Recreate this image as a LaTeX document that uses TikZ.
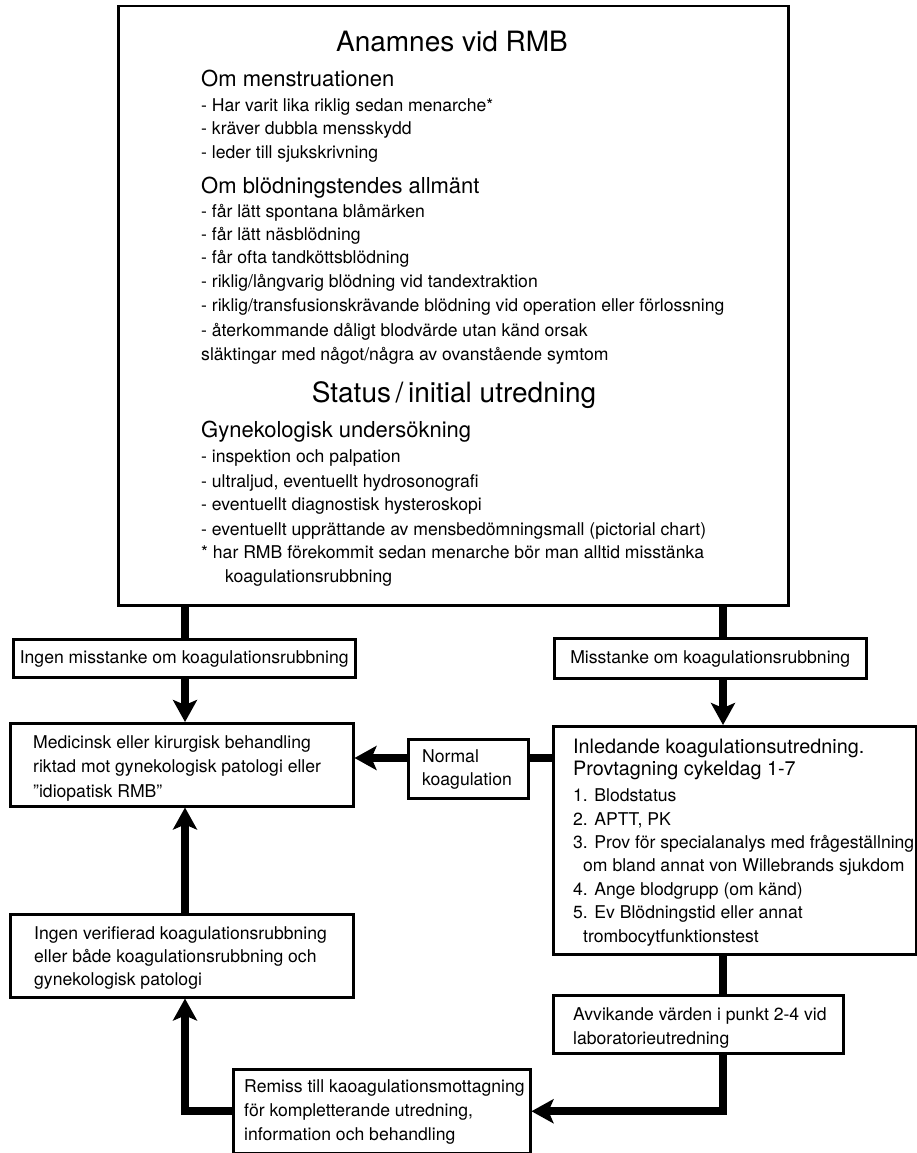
\documentclass[tikz,border=0pt]{standalone}
\usepackage{fontspec}
\setmainfont{TeX Gyre Heros}
\usepackage{tikz}
\usetikzlibrary{arrows.meta,positioning}

\begin{document}
\begin{tikzpicture}[x=1pt, y=-1pt,
    box/.style={draw, line width=2.5pt, inner sep=0pt, anchor=north west},
    small/.style={font=\fontsize{17.6}{23.5}\selectfont},
    txt/.style={small, anchor=base west, align=left, inner sep=0pt},
    head/.style={anchor=base, inner sep=0pt, font=\fontsize{28}{30}\selectfont},
    subhead/.style={anchor=base west, inner sep=0pt, font=\fontsize{22}{24}\selectfont},
    flow/.style={line width=8pt},
    arrow/.style={flow, -{Stealth[length=22pt, width=24pt, inset=5pt]}}]
				\useasboundingbox (0,0) rectangle (917,1153);
				
				\node[box, minimum width=670, minimum height=599] (anamnes) at (117,5) {};
				\node[head] (anamnesTitle) at (452,52) {Anamnes vid RMB};
				\node[subhead] (menstHead) at (201,87) {Om menstruationen};
				\node[subhead] (bleedHead) at (201,193) {Om blödningstendes allmänt};
				\node[head] (statusTitle) at (454,402) {Status\,/\,initial utredning};
				\node[subhead] (gynHead) at (201,437) {Gynekologisk undersökning};
				\foreach \ypos/\entry in {112/{- Har varit lika riklig sedan menarche*}, 135/{- kräver dubbla mensskydd},
				    158/{- leder till sjukskrivning}, 217/{- får lätt spontana blåmärken}, 240/{- får lätt näsblödning},
				    263/{- får ofta tandköttsblödning}, 287/{- riklig/långvarig blödning vid tandextraktion},
				    311/{- riklig/transfusionskrävande blödning vid operation eller förlossning},
				    336/{- återkommande dåligt blodvärde utan känd orsak}, 360/{släktingar med något/några av ovanstående symtom},
				    462/{- inspektion och palpation}, 487/{- ultraljud, eventuellt hydrosonografi},
				    510/{- eventuellt diagnostisk hysteroskopi}, 535/{- eventuellt upprättande av mensbedömningsmall (pictorial chart)},
				    558/{* har RMB förekommit sedan menarche bör man alltid misstänka}}
				    \node[txt] (anam\ypos) at (201,\ypos) {\entry};
				\node[txt] (anam582) at (225,582) {koagulationsrubbning};
				
				\node[box, small, minimum width=342, minimum height=38, text height=12pt, text depth=1pt] (ingen) at (12,638) {Ingen misstanke om koagulationsrubbning};
				\node[box, small, minimum width=312, minimum height=40, text height=12pt, text depth=1pt] (misstanke) at (553,637) {Misstanke om koagulationsrubbning};
				
				\node[box, minimum width=343, minimum height=83] (medicinsk) at (9,722) {};
				\node[txt, font=\fontsize{17.6}{24.5}\selectfont] (medicinskText) at (33,797) {Medicinsk eller kirurgisk behandling\\riktad mot gynekologisk patologi eller\\”idiopatisk RMB”};
				
				\node[box, minimum width=120, minimum height=59] (normal) at (407,738) {};
				\node[txt, font=\fontsize{17.6}{23}\selectfont] (normalText) at (422,785) {Normal\\koagulation};
				
				\node[box, minimum width=363, minimum height=228] (inledande) at (552,725) {};
				\node[txt, font=\fontsize{19.8}{22}\selectfont] (inledandeHead) at (573,775) {Inledande koagulationsutredning.\\Provtagning cykeldag 1-7};
				\node[txt, font=\fontsize{17.6}{23.4}\selectfont] (inledandeList) at (573,942) {1. Blodstatus\\2. APTT, PK\\3. Prov för specialanalys med frågeställning\\\hspace*{10pt}om bland annat von Willebrands sjukdom\\4. Ange blodgrupp (om känd)\\5. Ev Blödningstid eller annat\\\hspace*{10pt}trombocytfunktionstest};
				
				\node[box, minimum width=343, minimum height=83] (verifierad) at (9,913) {};
				\node[txt, font=\fontsize{17.6}{23}\selectfont] (verifieradText) at (34,985) {Ingen verifierad koagulationsrubbning\\eller både koagulationsrubbning och\\gynekologisk patologi};
				
				\node[box, minimum width=290, minimum height=58] (avvikande) at (552,994) {};
				\node[txt, font=\fontsize{17.6}{23.5}\selectfont] (avvikandeText) at (573,1044) {Avvikande värden i punkt 2-4 vid\\laboratorieutredning};
				
				\node[box, minimum width=297, minimum height=84] (remiss) at (232,1068) {};
				\node[txt, font=\fontsize{17.6}{24}\selectfont] (remissText) at (244,1140) {Remiss till kaoagulationsmottagning\\för kompletterande utredning,\\information och behandling};
				
				\coordinate (leftLane) at (185,0);
				\coordinate (rightLane) at (723,0);
				\coordinate (normalLane) at (0,758);
				
				\draw[flow] (leftLane |- anamnes.south) -- (leftLane |- ingen.north);
				\draw[flow] (rightLane |- anamnes.south) -- (rightLane |- misstanke.north);
				\draw[arrow] (leftLane |- ingen.south) -- (leftLane |- medicinsk.north);
				\draw[arrow] (rightLane |- misstanke.south) -- (rightLane |- inledande.north);
				\draw[flow] (normalLane -| inledande.west) -- (normalLane -| normal.east);
				\draw[arrow] (normalLane -| normal.west) -- (normalLane -| medicinsk.east);
				\draw[flow] (rightLane |- inledande.south) -- (rightLane |- avvikande.north);
				\draw[arrow] (rightLane |- avvikande.south) |- (remiss.east);
				\draw[arrow] (remiss.west) -| (leftLane |- verifierad.south);
				\draw[arrow] (leftLane |- verifierad.north) -- (leftLane |- medicinsk.south);
			\end{tikzpicture}
\end{document}
